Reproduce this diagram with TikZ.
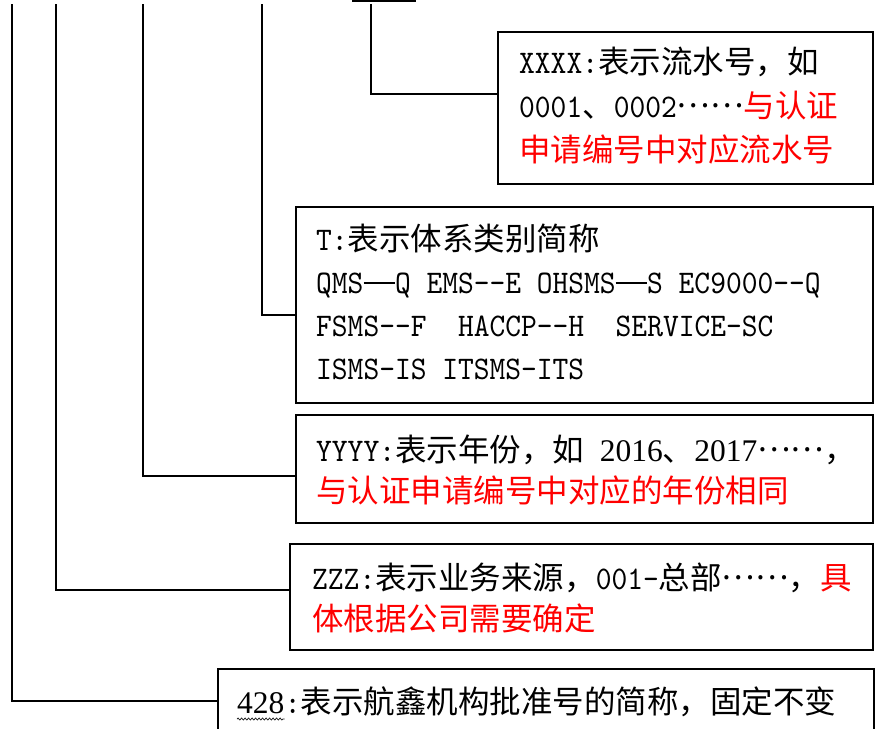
\documentclass[tikz,border=0pt]{standalone}
\usepackage{fontspec}
\newfontfamily\cjk{Noto Sans CJK SC}
\newfontfamily\lat{lmmono10-regular.otf}[FakeStretch=0.91]
\newfontfamily\tnr{Liberation Serif}
\usetikzlibrary{decorations.pathmorphing,calc}
\newcommand\zh[1]{{\fontsize{31.5}{44}\selectfont\cjk #1}}
\newcommand\rz[1]{{\color{red}\zh{#1}}}
\newcommand\rmd[1]{{\fontsize{31.5}{44}\tnr #1}}
\newcommand\dd{-\kern0pt-}
\newcommand\emd{\rule[9.5pt]{31.5pt}{1.5pt}}
\newcommand\mydots{\raisebox{0.3em}{\zh{……}}}
\begin{document}
\begin{tikzpicture}[x=1pt,y=-1pt,
  box/.style={draw, line width=1.6pt, anchor=north west, inner sep=0pt, rectangle},
  txt/.style={anchor=base west, inner sep=0pt, font=\fontsize{33}{40}\lat},
  conn/.style={line width=1.6pt},
  wavy/.style={draw=gray!20!black, line width=0.7pt, decorate, decoration={snake, amplitude=1pt, segment length=3.5pt}}]
\useasboundingbox (0,0) rectangle (877,728);

% boxes
\node[box, minimum width=375pt, minimum height=152pt] (b1) at (497,31) {};
\node[box, minimum width=577pt, minimum height=196pt] (b2) at (295,206) {};
\node[box, minimum width=577pt, minimum height=108pt] (b3) at (295,414) {};
\node[box, minimum width=583pt, minimum height=106pt] (b4) at (289,543) {};
\node[box, minimum width=656pt, minimum height=64pt] (b5) at (217,668) {};

% top ends of the connectors
\coordinate (v1) at (371,4);
\coordinate (v2) at (262,4);
\coordinate (v3) at (143,4);
\coordinate (v4) at (56,4);
\coordinate (v5) at (12,4);
\coordinate (ta) at (352,1);
\coordinate (tb) at (416,1);
\draw[conn] (ta) -- (tb);

% connectors
\draw[conn] (v1) |- ([yshift=14pt]b1.west);
\draw[conn] (v2) |- ([yshift=-10pt]b2.west);
\draw[conn] (v3) |- ([yshift=-7pt]b3.west);
\draw[conn] (v4) |- ([yshift=7pt]b4.west);
\draw[conn] (v5) |- (b5.west);

% box 1
\node[txt] (t1a) at (519,73) {XXXX:\zh{表示流水号，如}};
\node[txt] (t1b) at (519,117) {0001\zh{、}0002\mydots\rz{与认证}};
\node[txt] (t1c) at (519,161) {\rz{申请编号中对应流水号}};

% box 2
\node[txt] (t2a) at (316,250) {T:\zh{表示体系类别简称}};
\node[txt] (t2b) at (316,293) {QMS\emd Q EMS\dd E OHSMS\emd S EC9000\dd Q};
\node[txt] (t2c) at (316,336) {FSMS\dd F\ \ HACCP\dd H\ \ SERVICE-SC};
\node[txt] (t2d) at (316,379) {ISMS-IS ITSMS-ITS};

% box 3
\node[txt] (t3a) at (316,461) {YYYY:\zh{表示年份，如} \rmd{2016}\zh{、}\rmd{2017}\mydots\zh{，}};
\node[txt] (t3b) at (316,502) {\rz{与认证申请编号中对应的年份相同}};

% box 4
\node[txt] (t4a) at (312,589) {ZZZ:\zh{表示业务来源，}001-\zh{总部}\mydots\zh{，}\rz{具}};
\node[txt] (t4b) at (312,630) {\rz{体根据公司需要确定}};

% box 5
\node[txt] (n428) at (237,713) {\rmd{428}};
\node[txt] (t5a) at (n428.base east) {:\zh{表示航鑫机构批准号的简称，固定不变}};
\draw[wavy] ([yshift=-6pt]n428.base west) -- ([yshift=-6pt]n428.base east);
\end{tikzpicture}
\end{document}
